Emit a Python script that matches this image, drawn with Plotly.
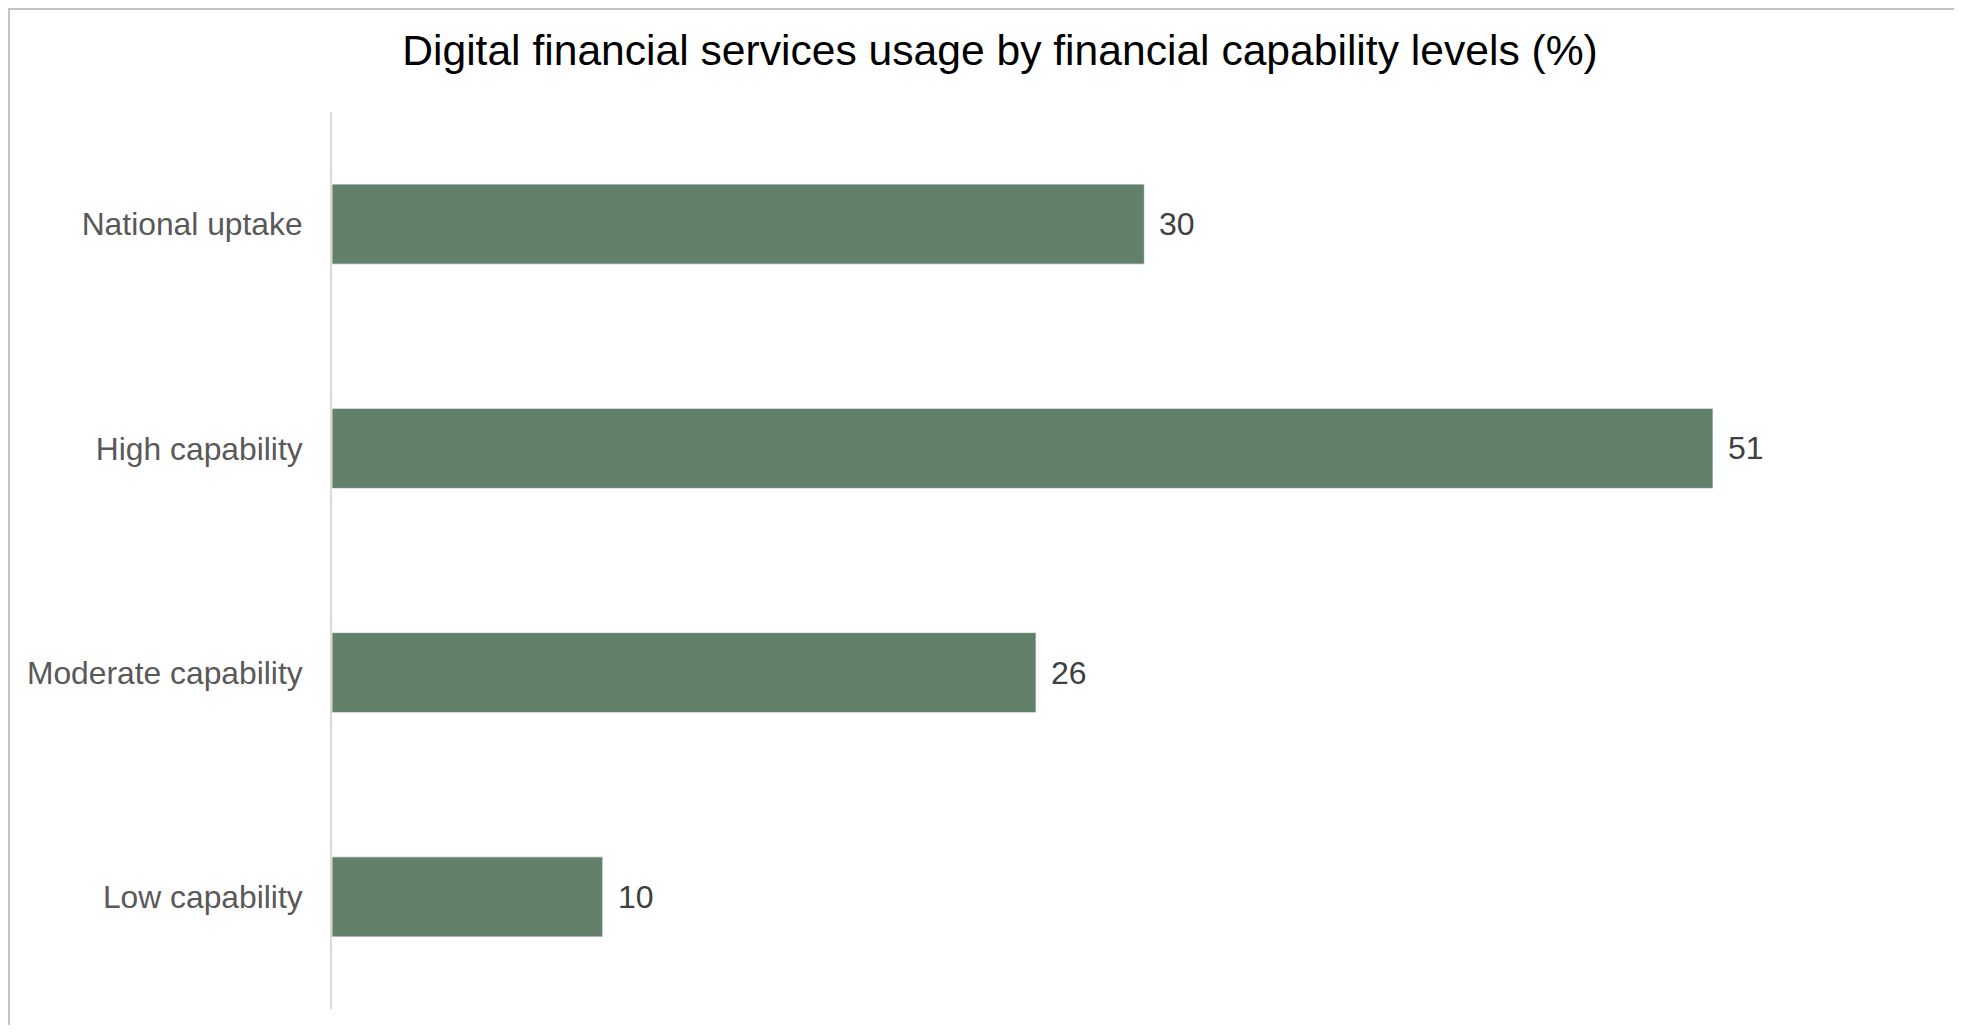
import plotly.graph_objects as go

categories = ["National uptake", "High capability", "Moderate capability", "Low capability"]
values = [30, 51, 26, 10]
value_labels = ["30", "51", "26", "10"]
title_text = "Digital financial services usage by financial capability levels (%)"

# page body has an 8px margin, so the figure is sized to fit the viewport
W, H = 1946, 1017
ML, MR, MT, MB = 324, 0, 104, 16
PW, PH = W - ML - MR, H - MT - MB


def px_x(px):
    return (px - ML) / PW


def px_y(py):
    return (H - MB - py) / PH


fig = go.Figure()
fig.add_trace(go.Bar(
    x=values,
    y=categories,
    orientation="h",
    marker=dict(color="#62806A", line=dict(color="rgba(255,255,255,0.7)", width=1)),
    hoverinfo="x+y",
    showlegend=False,
))

for c, v, t in zip(categories, values, value_labels):
    fig.add_annotation(
        x=v, y=c, xref="x", yref="y", text=t, showarrow=False,
        xanchor="left", yanchor="middle", xshift=13,
        font=dict(family="Liberation Sans, Arial, sans-serif", size=32, color="#404040"),
    )

# outer chart border (top and left visible)
fig.add_shape(
    type="rect", xref="paper", yref="paper",
    x0=px_x(1), x1=px_x(2010), y0=px_y(1060), y1=px_y(1),
    line=dict(color="#C3C3C3", width=2), fillcolor="rgba(0,0,0,0)", layer="below",
)

fig.update_layout(
    width=W, height=H,
    margin=dict(l=ML, r=MR, t=MT, b=MB, pad=0),
    paper_bgcolor="white", plot_bgcolor="white",
    bargap=0.643,
    title=dict(
        text=title_text, xref="container", yref="container",
        x=992 / W, y=1 - 42 / H, xanchor="center", yanchor="middle",
        font=dict(family="Liberation Sans, Arial, sans-serif", size=42.6, color="#000000"),
    ),
    xaxis=dict(range=[0, 59.9], showgrid=False, showticklabels=False, zeroline=False,
               showline=False, ticks=""),
    yaxis=dict(categoryorder="array", categoryarray=categories, autorange="reversed",
               showgrid=False, zeroline=False, showline=True, linecolor="#D9D9D9",
               linewidth=2, ticks="", ticklabelstandoff=21,
               tickfont=dict(family="Liberation Sans, Arial, sans-serif", size=31.8, color="#595959")),
    font=dict(family="Liberation Sans, Arial, sans-serif"),
)

fig.write_html("out.html")
